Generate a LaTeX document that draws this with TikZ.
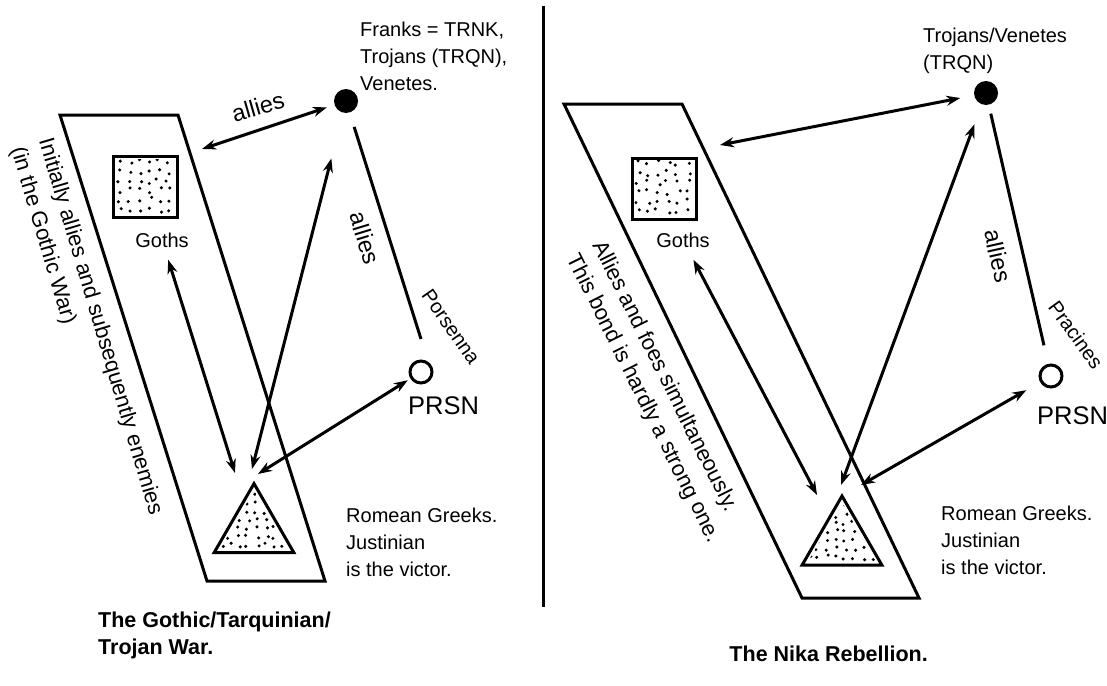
\documentclass[tikz,border=0pt]{standalone}
\usepackage{fontspec}
\setmainfont{Liberation Sans}
\usetikzlibrary{arrows.meta,shapes.geometric,calc}
\tikzset{
  edge/.style={line width=3pt},
  link/.style={edge, {Stealth[length=14pt,width=10pt]}-{Stealth[length=14pt,width=10pt]}},
  frame/.style={line width=3pt, line join=miter},
  sq/.style={draw, line width=3pt, minimum width=64pt, minimum height=61pt, inner sep=0pt},
  tri/.style={draw, line width=3pt, regular polygon, regular polygon sides=3, minimum size=92pt, inner sep=0pt},
  fullpt/.style={circle, fill, minimum size=24pt, inner sep=0pt},
  openpt/.style={circle, draw, line width=3pt, minimum size=22pt, inner sep=0pt},
  txt/.style={font=\fontsize{20}{27}\selectfont, inner sep=0pt, align=left},
  tag/.style={font=\fontsize{23.5}{28}\selectfont, inner sep=0pt},
  big/.style={font=\fontsize{25.5}{30}\selectfont, inner sep=0pt},
  note/.style={font=\fontsize{22}{29}\selectfont, inner sep=0pt, align=left},
  head/.style={font=\bfseries\fontsize{21.5}{27}\selectfont, inner sep=0pt, align=left},
}
\newcommand{\stipsq}[1]{%
  \begin{scope}
    \clip ([shift={(4,4)}]#1.north west) rectangle ([shift={(-4,-4)}]#1.south east);
    \foreach \i in {0,...,5}
      \foreach \j in {0,...,5}
        \fill ($(#1.north west)+(7+\i*10+rand*3, 7+\j*9.5+rand*3)$) circle (1.7pt);
  \end{scope}}
\newcommand{\stiptri}[1]{%
  \begin{scope}
    \clip ($(#1.center)!0.8!(#1.corner 1)$) -- ($(#1.center)!0.8!(#1.corner 2)$)
      -- ($(#1.center)!0.8!(#1.corner 3)$) -- cycle;
    \foreach \i in {0,...,9}
      \foreach \j in {0,...,8}
        \fill ($(#1.center)+(-42+\i*9+rand*2.5, -44+\j*8.5+rand*2.5)$) circle (1.7pt);
  \end{scope}}
\begin{document}
\begin{tikzpicture}[x=1pt, y=-1pt]
  \useasboundingbox (0,0) rectangle (1107,685);
  \pgfmathsetseed{11}
  % left panel
  \draw[frame] (60,115) -- (178,115) -- (325,581) -- (207,581) -- cycle;
  \node[sq] (gothsL) at (145.5,187) {};
  \stipsq{gothsL}
  \node[txt, anchor=base] (gothsLtxt) at (162,247) {Goths};
  \node[tri] (triL) at (254,529.6) {};
  \stiptri{triL}
  \node[fullpt] (trnkL) at (346,101) {};
  \node[openpt] (prsnL) at (421,372) {};
  \node[big, anchor=base west] (prsnLtxt) at (408,414) {PRSN};
  \node[txt, anchor=north west] (franks) at (360,22) {Franks = TRNK,\\Trojans (TRQN),\\Venetes.};
  \node[txt, anchor=north west] (romeanL) at (346,508) {Romean Greeks.\\Justinian\\is the victor.};
  \node[tag, rotate=16] (alliesA) at (258,107) {allies};
  \node[tag, rotate=-73] (alliesB) at (365,238) {allies};
  \node[txt, rotate=-55] (porsenna) at (451,327) {Porsenna};
  \node[note, rotate=-73.5] (bondL) at (86,331) {Initially allies and subsequently enemies\\(in the Gothic War)};
  \node[head, anchor=north west] (titleL) at (98,612) {The Gothic/Tarquinian/\\Trojan War.};
  \coordinate (gateL) at (202,149);
  \coordinate (hitLa) at (235,473);
  \coordinate (hitLb) at (252,469);
  \coordinate (hitLc) at (258,474);
  \coordinate (pinL) at (421,339);
  \draw[link, shorten >=8pt] (gateL) -- (trnkL);
  \draw[link, shorten <=13pt] (gothsLtxt) -- (hitLa);
  \draw[link, shorten >=47pt] (hitLb) -- (trnkL);
  \draw[link, shorten >=3pt] (hitLc) -- (prsnL);
  \draw[edge, shorten <=15pt] (trnkL) -- (pinL);
  % divider
  \draw[line width=3pt] (543,6) -- (543,607);
  % right panel
  \draw[frame] (564,104) -- (682,104) -- (919,598) -- (802,598) -- cycle;
  \node[sq] (gothsR) at (664,188.5) {};
  \stipsq{gothsR}
  \node[txt, anchor=base] (gothsRtxt) at (683,247) {Goths};
  \node[tri] (triR) at (842,542) {};
  \stiptri{triR}
  \node[fullpt] (trnkR) at (986,93) {};
  \node[openpt] (prsnR) at (1051,376) {};
  \node[big, anchor=base west] (prsnRtxt) at (1037,424) {PRSN};
  \node[txt, anchor=north west] (trojans) at (923,28) {Trojans/Venetes\\(TRQN)};
  \node[txt, anchor=north west] (romeanR) at (941,506) {Romean Greeks.\\Justinian\\is the victor.};
  \node[tag, rotate=-77.5] (alliesC) at (998,256) {allies};
  \node[txt, rotate=-54] (pracines) at (1076,335) {Pracines};
  \node[note, rotate=-63.5] (bondR) at (656,392) {Allies and foes simultaneously.\\This bond is hardly a strong one.};
  \node[head, anchor=north east] (titleR) at (928,646) {The Nika Rebellion.};
  \coordinate (gateR) at (720,145);
  \coordinate (hitRa) at (817,495);
  \coordinate (hitRb) at (841,485);
  \coordinate (hitRc) at (861,485);
  \draw[link, shorten >=14pt] (gateR) -- (trnkR);
  \draw[link, shorten <=14pt] (gothsRtxt) -- (hitRa);
  \draw[link, shorten >=21pt] (hitRb) -- (trnkR);
  \draw[link, shorten >=16pt] (hitRc) -- (prsnR);
  \draw[edge, shorten <=9pt, shorten >=19pt] (trnkR) -- (prsnR);
\end{tikzpicture}
\end{document}
